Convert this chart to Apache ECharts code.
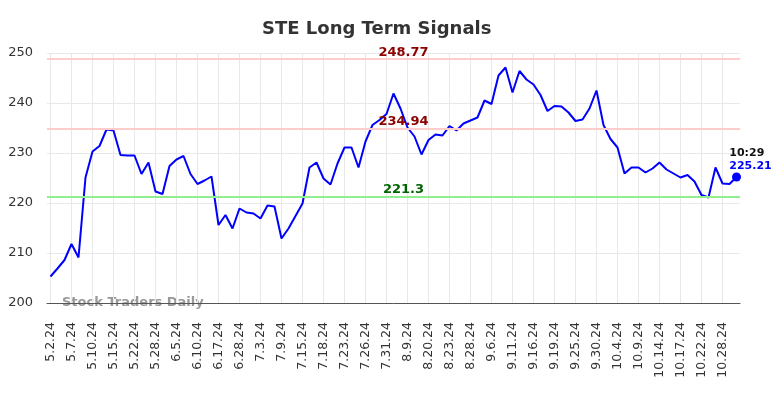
<!DOCTYPE html>
<html>
<head>
<meta charset="utf-8">
<script src="https://cdn.jsdelivr.net/npm/echarts@6/dist/echarts.min.js"></script>
<style>
html, body { margin: 0; padding: 0; background: #fff; }
#main { width: 784px; height: 398px; }
</style>
</head>
<body>
<div id="main"></div>
<script>
// tick labels, one for every 3rd point
var tickLabels = ['5.2.24', '5.7.24', '5.10.24', '5.15.24', '5.22.24', '5.28.24', '6.5.24', '6.10.24',
    '6.17.24', '6.28.24', '7.3.24', '7.9.24', '7.15.24', '7.18.24', '7.23.24', '7.26.24', '7.31.24',
    '8.9.24', '8.20.24', '8.23.24', '8.28.24', '9.6.24', '9.11.24', '9.16.24', '9.19.24', '9.25.24',
    '9.30.24', '10.4.24', '10.9.24', '10.14.24', '10.17.24', '10.22.24', '10.28.24'];

// closing prices
var prices = [
    205.3, 206.9, 208.6, 211.8, 209.1, 225.1, 230.3, 231.4, 234.7, 234.5,
    229.6, 229.5, 229.5, 225.8, 228.1, 222.3, 221.8, 227.4, 228.7, 229.4,
    225.8, 223.8, 224.5, 225.3, 215.6, 217.6, 214.9, 218.9, 218.1, 217.9,
    216.9, 219.5, 219.3, 212.9, 214.9, 217.4, 219.9, 227.1, 228.1, 224.9,
    223.7, 227.9, 231.1, 231.1, 227.1, 232.3, 235.6, 236.6, 237.8, 241.9,
    238.9, 235.1, 233.3, 229.7, 232.6, 233.7, 233.5, 235.4, 234.5, 235.9,
    236.5, 237.1, 240.5, 239.8, 245.5, 247.1, 242.1, 246.4, 244.7, 243.7,
    241.6, 238.4, 239.4, 239.3, 238.1, 236.4, 236.7, 238.9, 242.5, 235.6,
    232.8, 231.1, 225.9, 227.1, 227.1, 226.1, 226.9, 228.1, 226.7, 225.9,
    225.1, 225.6, 224.3, 221.6, 221.1, 227.1, 223.9, 223.8, 225.21
];

var resistance = [248.77, 234.94];
var support = [221.3];
var lastTime = '10:29';

var categories = prices.map(function (v, i) { return String(i); });
var lastIdx = prices.length - 1;

var lineMarks = [];
resistance.forEach(function (r) {
    lineMarks.push({
        yAxis: r,
        lineStyle: { color: '#ffcccc', width: 2, type: 'solid' },
        label: { color: '#8b0000' }
    });
});
support.forEach(function (s) {
    lineMarks.push({
        yAxis: s,
        lineStyle: { color: '#90ee90', width: 2, type: 'solid' },
        label: { color: '#006400' }
    });
});

var myChart = echarts.init(document.getElementById('main'));

var option = {
    animation: false,
    backgroundColor: '#fff',
    title: {
        text: 'STE Long Term Signals',
        left: 257,
        top: 15,
        textStyle: { fontSize: 18, fontWeight: 'bold', color: '#333', fontFamily: 'DejaVu Sans' }
    },
    graphic: [{
        type: 'text',
        left: 62,
        top: 296,
        style: { text: 'Stock Traders Daily', fontSize: 13, fontWeight: 'bold', fill: '#999', fontFamily: 'DejaVu Sans' }
    }],
    grid: { left: 47, right: 44, top: 53, bottom: 95 },
    xAxis: {
        type: 'category',
        data: categories,
        boundaryGap: true,
        axisLine: { lineStyle: { color: '#555', width: 1 } },
        axisTick: { show: false },
        axisLabel: {
            interval: 2,
            rotate: 90,
            fontSize: 12.5,
            color: '#333',
            fontFamily: 'DejaVu Sans',
            margin: 19,
            formatter: function (val, idx) { return tickLabels[idx / 3] || ''; }
        },
        splitLine: { show: true, interval: 2, alignWithLabel: true, lineStyle: { color: '#e8e8e8', width: 1 } }
    },
    yAxis: {
        type: 'value',
        min: 200,
        max: 250,
        interval: 10,
        axisLine: { show: false },
        axisTick: { show: false },
        axisLabel: { fontSize: 13, color: '#333', fontFamily: 'DejaVu Sans', margin: 14 },
        splitLine: { lineStyle: { color: '#e8e8e8', width: 1 } }
    },
    series: [{
        type: 'line',
        data: prices,
        showSymbol: false,
        lineStyle: { color: '#0000ff', width: 2 },
        itemStyle: { color: '#0000ff' },
        markLine: {
            silent: true,
            symbol: 'none',
            label: {
                position: 'middle',
                offset: [10, 0],
                distance: 0,
                fontSize: 13,
                fontWeight: 'bold',
                fontFamily: 'DejaVu Sans',
                formatter: function (p) { return String(p.value); }
            },
            data: lineMarks
        },
        markPoint: {
            silent: true,
            data: [{
                coord: [String(lastIdx), prices[lastIdx]],
                symbol: 'circle',
                symbolSize: 9,
                itemStyle: { color: '#0000ff' },
                label: {
                    show: true,
                    position: 'top',
                    offset: [14, 5],
                    formatter: '{t|' + lastTime + '}\n{v|' + prices[lastIdx].toFixed(2) + '}',
                    rich: {
                        t: { color: '#111', fontWeight: 'bold', fontSize: 11, lineHeight: 13, fontFamily: 'DejaVu Sans', align: 'left' },
                        v: { color: '#0000ff', fontWeight: 'bold', fontSize: 11, lineHeight: 13, fontFamily: 'DejaVu Sans', align: 'left' }
                    }
                }
            }]
        },
        z: 3
    }]
};

myChart.setOption(option);
</script>
</body>
</html>
